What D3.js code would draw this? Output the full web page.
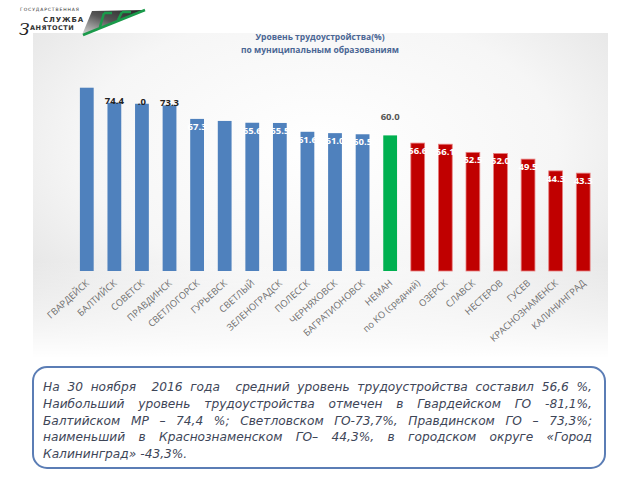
<!DOCTYPE html>
<html>
<head>
<meta charset="utf-8">
<script src="https://cdn.jsdelivr.net/npm/d3@7"></script>
<style>
  body { margin: 0; background: #fff; }
  svg { display: block; }
</style>
</head>
<body>
<svg width="640" height="480"></svg>
<script>
// Data ======================================================
const districts = ["ГВАРДЕЙСК", "БАЛТИЙСК", "СОВЕТСК", "ПРАВДИНСК", "СВЕТЛОГОРСК", "ГУРЬЕВСК",
  "СВЕТЛЫЙ", "ЗЕЛЕНОГРАДСК", "ПОЛЕССК", "ЧЕРНЯХОВСК", "БАГРАТИОНОВСК", "НЕМАН",
  "по КО (средний)", "ОЗЕРСК", "СЛАВСК", "НЕСТЕРОВ", "ГУСЕВ", "КРАСНОЗНАМЕНСК", "КАЛИНИНГРАД"];
const rates = [81.1, 74.4, 74.0, 73.3, 67.3, 66.4, 65.6, 65.5, 61.6, 61.0, 60.5, 60.0,
  56.6, 56.1, 52.5, 52.0, 49.5, 44.3, 43.3];
const groups = ["high", "high", "high", "high", "high", "high", "high", "high", "high", "high", "high",
  "mid", "low", "low", "low", "low", "low", "low", "low"];
const valueLabels = ["", "74.4", ".0", "73.3", "67.3", "", "65.6", "65.5", "61.6", "61.0", "60.5", "60.0",
  "56.6", "56.1", "52.5", "52.0", "49.5", "44.3", "43.3"];
const titleLines = ["Уровень трудоустройства(%)", "по муниципальным образованиям"];
const noteLines = [
  "На 30 ноября  2016 года  средний уровень трудоустройства составил 56,6 %,",
  "Наибольший уровень трудоустройства отмечен в Гвардейском ГО -81,1%,",
  "Балтийском МР – 74,4 %; Светловском ГО-73,7%, Правдинском ГО – 73,3%;",
  "наименьший в Краснознаменском ГО– 44,3%, в городском округе «Город",
  "Калининград» -43,3%."
];

// Styles ====================================================
const groupColor = { high: "#4f81bd", mid: "#00b050", low: "#c00000" };
const darkLabelGroups = ["БАЛТИЙСК", "СОВЕТСК", "ПРАВДИНСК", "НЕМАН"];

const svg = d3.select("svg");
const defs = svg.append("defs");

// Panel background
const grad = defs.append("radialGradient").attr("id", "panelBg")
  .attr("cx", "50%").attr("cy", "35%").attr("r", "75%");
grad.append("stop").attr("offset", "0%").attr("stop-color", "#ffffff");
grad.append("stop").attr("offset", "55%").attr("stop-color", "#f6f6f6");
grad.append("stop").attr("offset", "100%").attr("stop-color", "#dedede");
const fade = defs.append("linearGradient").attr("id", "panelFade")
  .attr("x1", 0).attr("y1", 0).attr("x2", 0).attr("y2", 1);
fade.append("stop").attr("offset", "70%").attr("stop-color", "#fff").attr("stop-opacity", 0);
fade.append("stop").attr("offset", "100%").attr("stop-color", "#fff").attr("stop-opacity", 1);

svg.append("rect").attr("x", 33).attr("y", 33).attr("width", 575).attr("height", 325)
  .attr("fill", "url(#panelBg)");
svg.append("rect").attr("x", 33).attr("y", 33).attr("width", 575).attr("height", 325)
  .attr("fill", "url(#panelFade)");

// Logo ======================================================
const logo = svg.append("g").attr("class", "logo");
const lg = defs.append("linearGradient").attr("id", "logoGrad")
  .attr("x1", 0).attr("y1", 1).attr("x2", 1).attr("y2", 0);
lg.append("stop").attr("offset", "0%").attr("stop-color", "#dcdcdc");
lg.append("stop").attr("offset", "50%").attr("stop-color", "#555");
lg.append("stop").attr("offset", "100%").attr("stop-color", "#222");
logo.append("path").attr("d", "M82,35 L92,11 L145,10 Z").attr("fill", "url(#logoGrad)");
logo.append("path").attr("d", "M83,35 L145,10").attr("stroke", "#1a9a4a").attr("stroke-width", 2.5);
logo.append("path").attr("d", "M100,27 L104,13 M104,13 L112,13 M118,20 L122,12 M122,12 L131,12")
  .attr("stroke", "#1a9a4a").attr("stroke-width", 2.5).attr("fill", "none");
logo.append("text").attr("x", 20).attr("y", 11).attr("font-family", "DejaVu Sans")
  .attr("font-size", 4.5).attr("letter-spacing", 0.9).attr("fill", "#333").text("ГОСУДАРСТВЕННАЯ");
logo.append("text").attr("x", 43).attr("y", 22).attr("font-family", "DejaVu Sans").attr("font-weight", "bold")
  .attr("font-size", 7).attr("letter-spacing", 0.9).attr("fill", "#333").text("СЛУЖБА");
logo.append("text").attr("x", 19).attr("y", 35).attr("font-family", "DejaVu Serif").attr("font-style", "italic")
  .attr("font-size", 17).attr("fill", "#222").text("З");
logo.append("text").attr("x", 30).attr("y", 30).attr("font-family", "DejaVu Sans").attr("font-weight", "bold")
  .attr("font-size", 6.5).attr("letter-spacing", 0.5).attr("fill", "#333").text("АНЯТОСТИ");

// Title =====================================================
svg.selectAll(".title").data(titleLines).enter().append("text")
  .attr("class", "title")
  .attr("x", 320).attr("y", (d, i) => 40 + i * 13)
  .attr("text-anchor", "middle")
  .attr("font-family", "Open Sans").attr("font-weight", "bold").attr("font-size", 8.5)
  .attr("fill", "#4a6694").text(d => d);

// Bars ======================================================
const x = d3.scaleBand().domain(districts).range([73, 597]).paddingInner(0.5).paddingOuter(0.25);
const y = d3.scaleLinear().domain([0, 100]).range([271, 45]);

const bars = svg.append("g").attr("class", "bars");
bars.selectAll("rect").data(districts).enter().append("rect")
  .attr("x", d => x(d))
  .attr("y", (d, i) => y(rates[i]))
  .attr("width", x.bandwidth())
  .attr("height", (d, i) => y(0) - y(rates[i]))
  .attr("fill", (d, i) => groupColor[groups[i]])
  .attr("stroke", (d, i) => groups[i] == "low" ? "#e88080" : "none")
  .attr("stroke-width", 0.8);

bars.selectAll("text").data(districts).enter().append("text")
  .attr("x", d => x(d) + x.bandwidth() / 2)
  .attr("y", (d, i) => {
    if (d == "НЕМАН") return y(rates[i]) - 15;
    if (darkLabelGroups.includes(d)) return y(rates[i]) + 1;
    return y(rates[i]) + 11;
  })
  .attr("text-anchor", "middle")
  .attr("font-family", "Open Sans").attr("font-weight", "bold").attr("font-size", 9.5)
  .attr("fill", d => d == "НЕМАН" ? "#555" : (darkLabelGroups.includes(d) ? "#222" : "#fff"))
  .text((d, i) => valueLabels[i]);

// Axis labels
const axis = svg.append("g").attr("class", "x-axis");
axis.selectAll("text").data(districts).enter().append("text")
  .attr("transform", d => "translate(" + (x(d) + x.bandwidth() / 2 + 3) + ",284) rotate(-42)")
  .attr("text-anchor", "end")
  .attr("font-family", "Open Sans").attr("font-size", 9.3)
  .attr("fill", "#6e6e6e").text(d => d);

// Note box ==================================================
svg.append("rect").attr("x", 33).attr("y", 367).attr("width", 572).attr("height", 101)
  .attr("rx", 14).attr("fill", "#fff").attr("stroke", "#5b7db5").attr("stroke-width", 2);

const note = svg.append("g").attr("class", "note")
  .attr("font-family", "DejaVu Sans").attr("font-style", "italic").attr("font-size", 12.2)
  .attr("fill", "#3e4658");
const left = 43, right = 592;
noteLines.forEach(function(line, li) {
  const words = line.split(" ");
  const ly = 391 + li * 16.8;
  const ws = words.map(w => note.append("text").attr("y", ly).text(w));
  const widths = ws.map(t => t.node().getComputedTextLength());
  const total = d3.sum(widths);
  const justify = li < noteLines.length - 1;
  const gap = justify ? (right - left - total) / (words.length - 1) : 4;
  let cx = left;
  ws.forEach(function(t, i) {
    t.attr("x", cx);
    cx += widths[i] + gap;
  });
});
</script>
</body>
</html>
